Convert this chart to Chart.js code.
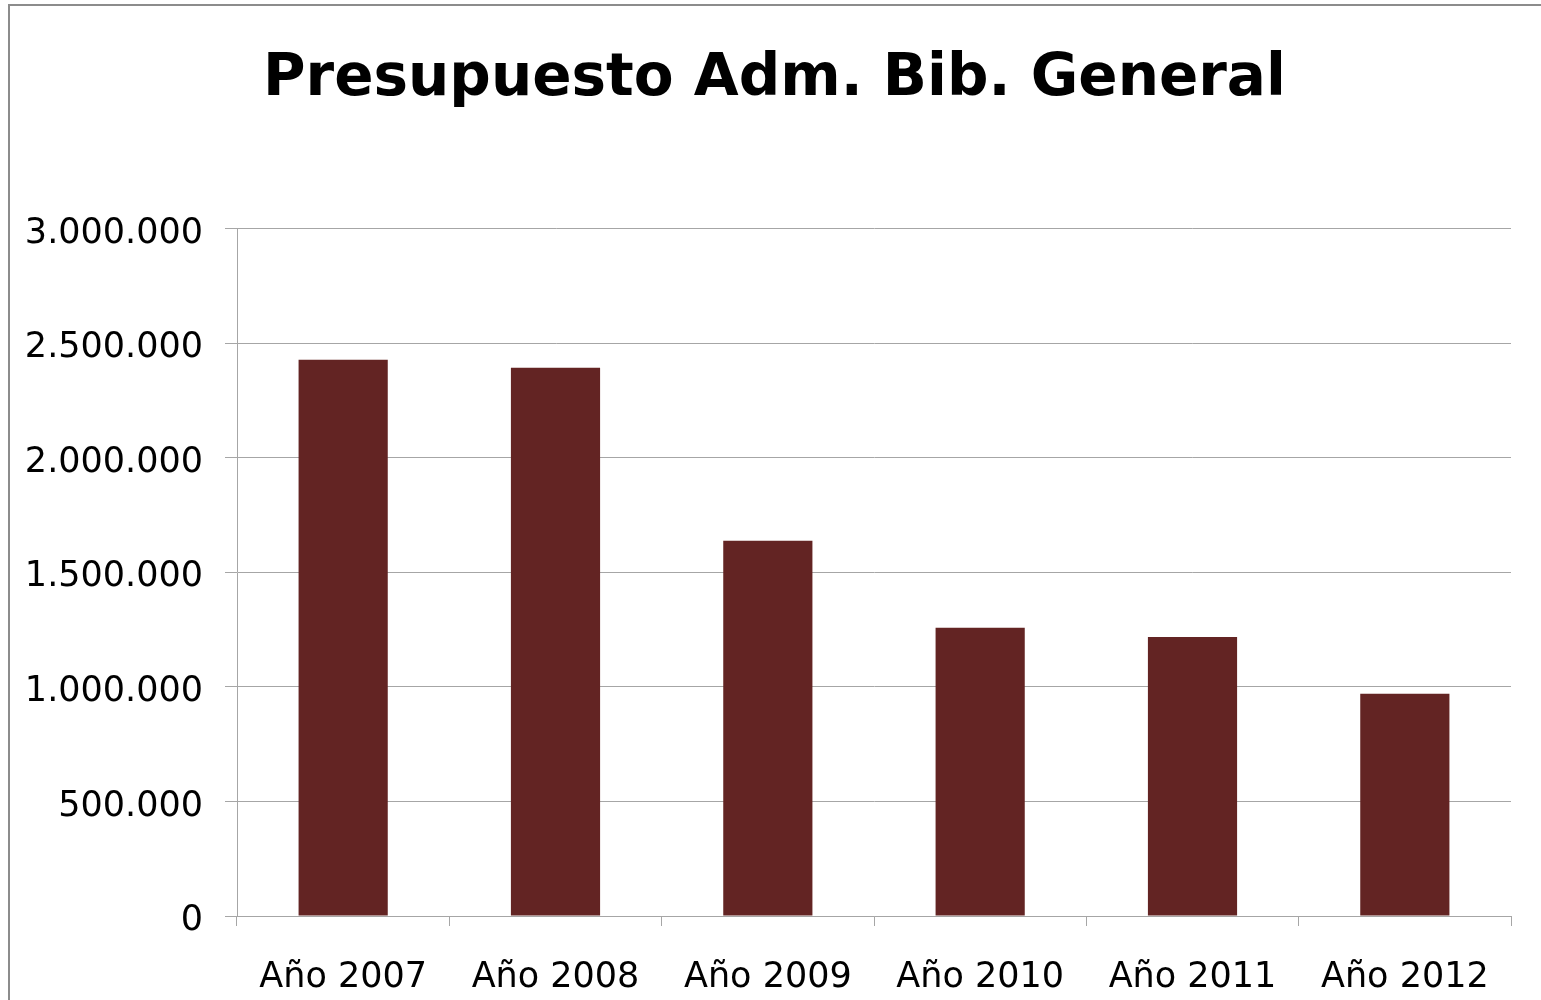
<!DOCTYPE html>
<html>
<head>
<meta charset="utf-8">
<script src="https://cdn.jsdelivr.net/npm/chart.js@4"></script>
<style>
    html, body { margin: 0; padding: 0; background: #fff; overflow: hidden; }
    #wrap { position: relative; width: 1541px; height: 1000px; }
    #frame { position: absolute; left: 8px; top: 4px; width: 2000px; height: 2000px; border: 2px solid #8c8c8c; }
    canvas { position: absolute; left: 0; top: 0; }
</style>
</head>
<body>
<div id="wrap">
    <div id="frame"></div>
    <canvas id="chart" width="1541" height="1000"></canvas>
</div>
<script>
// Chart data
const chartTitle = 'Presupuesto Adm. Bib. General';
const years = ['Año 2007', 'Año 2008', 'Año 2009', 'Año 2010', 'Año 2011', 'Año 2012'];
const budget = [2428000, 2393000, 1638000, 1258000, 1218000, 970000];

const barColor = '#632423';
const gridColor = '#a6a6a6';
const fontFamily = "'DejaVu Sans', sans-serif";

// Format numbers with dot separators (3.000.000)
function formatNumber(value) {
    return String(value).replace(/\B(?=(\d{3})+(?!\d))/g, '.');
}

// Nudge the title a little to the right, like in the original slide
const titleShift = {
    id: 'titleShift',
    afterLayout(chart) {
        if (chart.titleBlock) {
            chart.titleBlock.left += 38;
        }
    }
};

const ctx = document.getElementById('chart');

new Chart(ctx, {
    type: 'bar',
    data: {
        labels: years,
        datasets: [{
            data: budget,
            backgroundColor: barColor,
            borderWidth: 0,
            barPercentage: 0.42,
            categoryPercentage: 1
        }]
    },
    options: {
        responsive: false,
        animation: false,
        layout: {
            padding: { left: 0, right: 30, top: 0, bottom: 0 }
        },
        plugins: {
            legend: { display: false },
            tooltip: { enabled: false },
            title: {
                display: true,
                text: chartTitle,
                color: '#000',
                font: { family: fontFamily, size: 58, weight: 'bold', lineHeight: 1.2 },
                padding: { top: 45, bottom: 114 }
            }
        },
        scales: {
            x: {
                offset: true,
                grid: {
                    offset: true,
                    drawOnChartArea: false,
                    drawTicks: true,
                    tickLength: 10,
                    color: gridColor
                },
                border: { display: true, color: gridColor, width: 1 },
                ticks: {
                    color: '#000',
                    padding: 31,
                    maxRotation: 0,
                    font: { family: fontFamily, size: 35 }
                },
                afterFit: scale => { scale.height = 84; }
            },
            y: {
                min: 0,
                max: 3000000,
                grid: {
                    color: gridColor,
                    tickLength: 12
                },
                border: { display: true, color: gridColor, width: 1 },
                ticks: {
                    stepSize: 500000,
                    color: '#000',
                    padding: 22,
                    labelOffset: 5,
                    font: { family: fontFamily, size: 35 },
                    callback: value => formatNumber(value)
                },
                afterFit: scale => { scale.width = 237; }
            }
        }
    },
    plugins: [titleShift]
});
</script>
</body>
</html>
